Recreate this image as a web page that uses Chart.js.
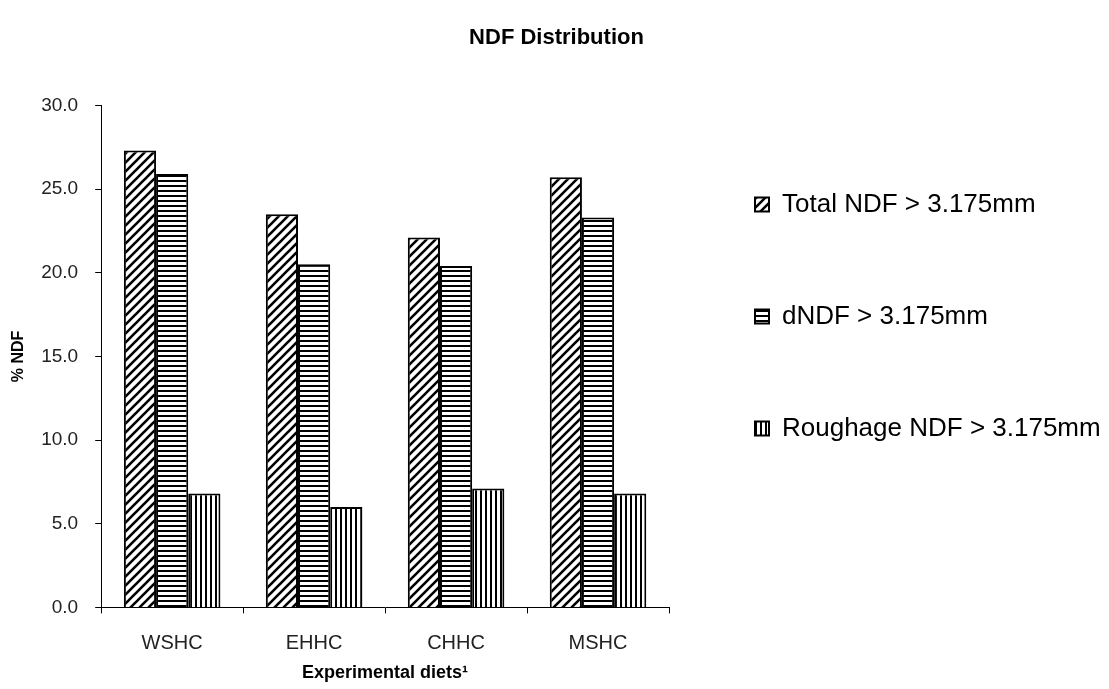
<!DOCTYPE html>
<html>
<head>
<meta charset="utf-8">
<title>NDF Distribution</title>
<script src="https://cdn.jsdelivr.net/npm/chart.js@4.4.1/dist/chart.umd.min.js"></script>
<style>
  html, body { margin: 0; padding: 0; background: #ffffff; }
  #wrap { width: 1109px; height: 689px; }
</style>
</head>
<body>
<div id="wrap"><canvas id="chart" width="1109" height="689"></canvas></div>
<script>
// Experimental diets and NDF fractions (% of NDF)
const categories = ['WSHC', 'EHHC', 'CHHC', 'MSHC'];
const totalNdf = [27.3, 23.5, 22.1, 25.7];
const dNdf = [25.9, 20.5, 20.4, 23.3];
const roughageNdf = [6.8, 6.0, 7.1, 6.8];
const seriesLabels = ['Total NDF > 3.175mm', 'dNDF > 3.175mm', 'Roughage NDF > 3.175mm'];

// Black-on-white hatch fills
function makePattern(kind) {
  const c = document.createElement('canvas');
  const ctx = c.getContext('2d');
  if (kind === 'diagonal') {
    const s = 9;
    c.width = s; c.height = s;
    ctx.fillStyle = '#fff';
    ctx.fillRect(0, 0, s, s);
    ctx.strokeStyle = '#000';
    ctx.lineWidth = 2.6;
    ctx.beginPath();
    ctx.moveTo(0, s); ctx.lineTo(s, 0);
    ctx.moveTo(-2, 2); ctx.lineTo(2, -2);
    ctx.moveTo(s - 2, s + 2); ctx.lineTo(s + 2, s - 2);
    ctx.stroke();
  } else if (kind === 'horizontal') {
    c.width = 5; c.height = 5;
    ctx.fillStyle = '#fff';
    ctx.fillRect(0, 0, 5, 5);
    ctx.fillStyle = '#000';
    ctx.fillRect(0, 0, 5, 2);
  } else {
    c.width = 5; c.height = 5;
    ctx.fillStyle = '#fff';
    ctx.fillRect(0, 0, 5, 5);
    ctx.fillStyle = '#000';
    ctx.fillRect(0, 0, 2, 5);
  }
  return document.getElementById('chart').getContext('2d').createPattern(c, 'repeat');
}

// Fixed-width legend column on the right
const legendWidthPlugin = {
  id: 'legendWidth',
  beforeInit(chart) {
    const origFit = chart.legend.fit;
    chart.legend.fit = function () {
      origFit.call(this);
      this.width = 440;
    };
  }
};

const FONT = "'Liberation Sans', Arial, sans-serif";

new Chart(document.getElementById('chart'), {
  type: 'bar',
  data: {
    labels: categories,
    datasets: [
      { label: seriesLabels[0], data: totalNdf, backgroundColor: makePattern('diagonal') },
      { label: seriesLabels[1], data: dNdf, backgroundColor: makePattern('horizontal') },
      { label: seriesLabels[2], data: roughageNdf, backgroundColor: makePattern('vertical') }
    ].map(d => Object.assign(d, {
      borderColor: '#000',
      borderWidth: 2,
      categoryPercentage: 0.68,
      barPercentage: 1.0
    }))
  },
  options: {
    responsive: false,
    animation: false,
    layout: { padding: { left: 4, right: 0, top: 0, bottom: 0 } },
    plugins: {
      title: {
        display: true,
        text: 'NDF Distribution',
        color: '#000',
        font: { family: FONT, size: 22, weight: 'bold' },
        padding: { top: 25, bottom: 54 }
      },
      legend: {
        position: 'right',
        align: 'start',
        fullSize: false,
        labels: {
          color: '#000',
          font: { family: FONT, size: 26 },
          boxWidth: 14,
          boxHeight: 14,
          padding: 86
        }
      },
      tooltip: { enabled: false }
    },
    scales: {
      x: {
        grid: {
          display: true,
          drawOnChartArea: false,
          drawTicks: true,
          tickLength: 6,
          tickColor: '#000',
          offset: true
        },
        border: { display: true, color: '#000', width: 1 },
        ticks: {
          color: '#222',
          font: { family: FONT, size: 20 },
          padding: 18
        },
        title: {
          display: true,
          text: 'Experimental diets¹',
          color: '#000',
          font: { family: FONT, size: 18, weight: 'bold' },
          padding: { top: -11, bottom: 5 }
        }
      },
      y: {
        min: 0,
        max: 30,
        grid: {
          display: true,
          drawOnChartArea: false,
          drawTicks: true,
          tickLength: 6,
          tickColor: '#000'
        },
        border: { display: true, color: '#000', width: 1 },
        ticks: {
          stepSize: 5,
          color: '#222',
          font: { family: FONT, size: 19 },
          padding: 17,
          callback: v => Number(v).toFixed(1)
        },
        title: {
          display: true,
          text: '% NDF',
          color: '#000',
          font: { family: FONT, size: 16, weight: 'bold' },
          padding: { top: 5, bottom: -4 }
        }
      }
    }
  },
  plugins: [legendWidthPlugin]
});
</script>
</body>
</html>
